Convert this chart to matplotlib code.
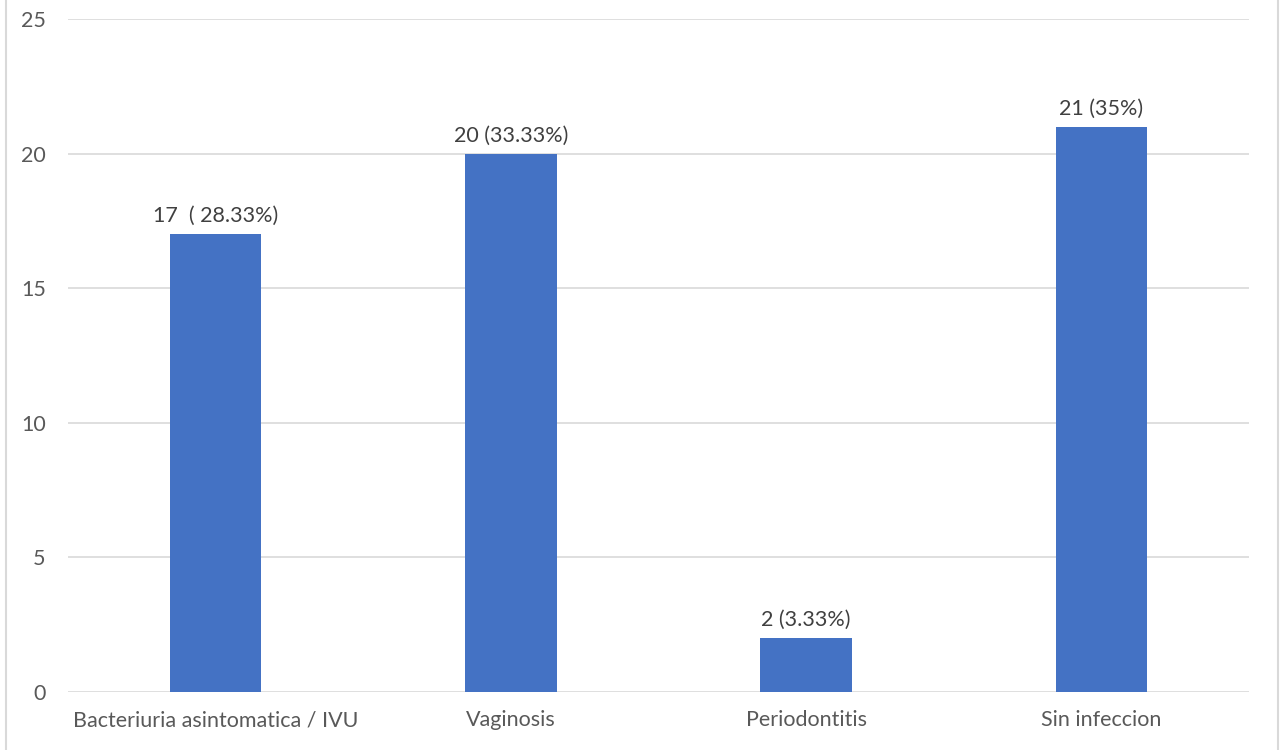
import matplotlib
matplotlib.use("Agg")
import matplotlib.pyplot as plt
from matplotlib.lines import Line2D

# Data
categories = ["Bacteriuria asintomatica / IVU", "Vaginosis", "Periodontitis", "Sin infeccion"]
counts = [17, 20, 2, 21]
labels = ["17  ( 28.33%)", "20 (33.33%)", "2 (3.33%)", "21 (35%)"]
yticks = [0, 5, 10, 15, 20, 25]

plt.rcParams['font.family'] = ['Lato', 'DejaVu Sans']
text_color = "#595959"
fs = 15.5

fig = plt.figure(figsize=(12.81, 7.5), dpi=100)
ax = fig.add_axes([68 / 1281, 1 - 692 / 750, (1249 - 68) / 1281, (692 - 19) / 750])

x = list(range(len(categories)))
ax.bar(x, counts, width=0.31, color="#4472C4", zorder=3)

for xi, v, lab in zip(x, counts, labels):
    ax.text(xi, v + 0.3, lab, ha="center", va="bottom", fontsize=fs, color="#404040")

ax.set_xlim(-0.5, 3.5)
ax.set_ylim(0, 25)
ax.set_yticks(yticks)
ax.set_yticklabels([str(t) for t in yticks])
ax.set_xticks(x)
ax.set_xticklabels(categories)
ax.grid(axis="y", color="#D9D9D9", linewidth=1.2, zorder=0)
ax.tick_params(axis="both", length=0, labelsize=fs, colors=text_color)
ax.tick_params(axis="y", pad=16)
ax.tick_params(axis="x", pad=13)
for s in ax.spines.values():
    s.set_visible(False)

# outer frame lines at the image edges
fig.add_artist(Line2D([5.5 / 1281, 5.5 / 1281], [0, 1], color="#D9D9D9", linewidth=1.5, transform=fig.transFigure))
fig.add_artist(Line2D([1278 / 1281, 1278 / 1281], [0, 1], color="#D9D9D9", linewidth=1.5, transform=fig.transFigure))

fig.savefig("out.png", dpi=100)
